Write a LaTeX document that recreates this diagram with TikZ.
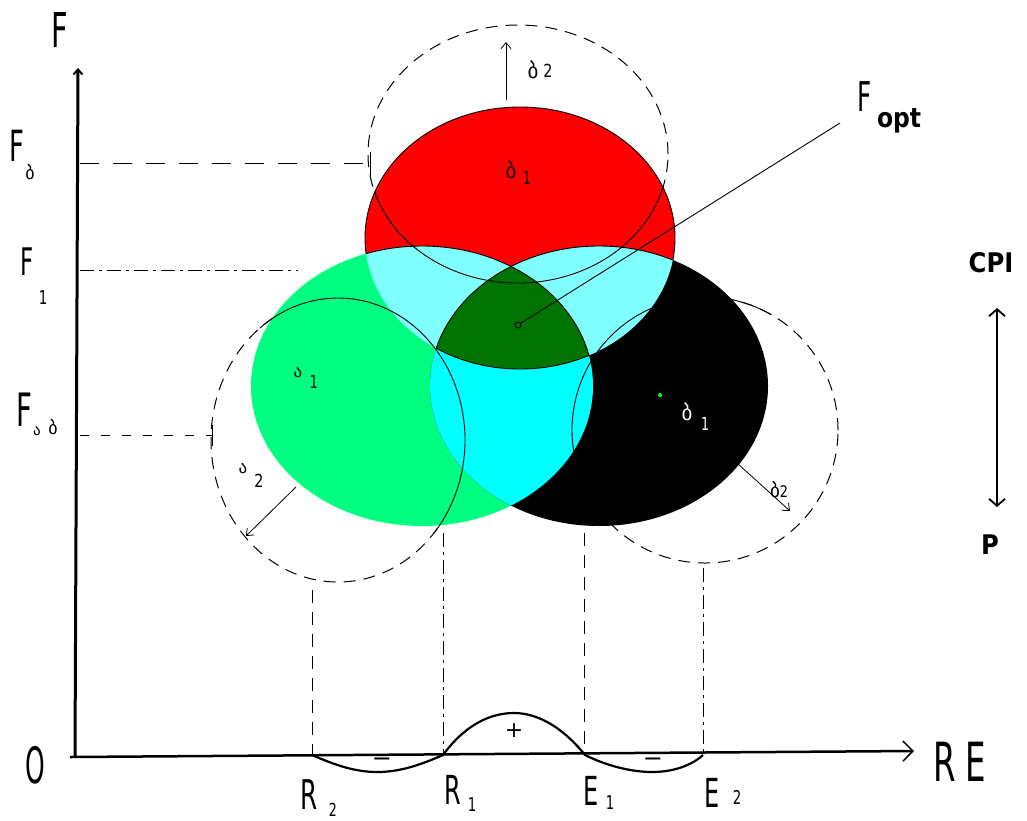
\documentclass[tikz,border=0pt]{standalone}
\usepackage{fontspec}
\setmainfont{DejaVu Sans}
\usetikzlibrary{arrows.meta}
\definecolor{cred}{HTML}{FF0000}
\definecolor{cgreen}{HTML}{00FF80}
\definecolor{clcyan}{HTML}{80FFFF}
\definecolor{ccyan}{HTML}{00FFFF}
\definecolor{cdgreen}{HTML}{007400}
\definecolor{cdot}{HTML}{00FF00}
\newcommand\cf[3]{\scalebox{#1}[1]{\fontsize{#2}{#2}\selectfont #3}}
\newcommand\geo[1]{\fontsize{#1}{#1}\selectfont}
\begin{document}
\begin{tikzpicture}[x=1pt,y=-1pt,
  thinl/.style={line width=0.9pt},
  dcirc/.style={line width=1pt, dash pattern=on 12pt off 8pt},
  barbarrow/.style={line width=0.8pt, -{Straight Barb[length=6pt,width=10pt]}},
  lbl/.style={inner sep=0pt, outer sep=0pt, anchor=center},
  guide/.style={line width=0.8pt},
  dashg/.style={guide, dash pattern=on 13pt off 9pt},
  dotg/.style={guide, dash pattern=on 14pt off 5pt on 3pt off 5pt},
]
\useasboundingbox (0,0) rectangle (1027,820);
\fill[white] (0,0) rectangle (1027,820);

% outer (dashed) circles
\draw[dcirc] (518,154) ellipse [x radius=150pt, y radius=129pt];
\draw[dcirc] (338,440) ellipse [x radius=127pt, y radius=142pt];
\draw[dcirc] (705,430) ellipse [x radius=133pt, y radius=133pt];

% coloured sets
\fill[cred] (520,238) ellipse [x radius=155pt, y radius=131pt];
\draw[thinl] (520,238) ellipse [x radius=155pt, y radius=131pt];
\fill[cgreen] (422,386) ellipse [x radius=171pt, y radius=140pt];
\fill[black] (599,386) ellipse [x radius=169pt, y radius=140pt];
\begin{scope}
  \clip (520,238) ellipse [x radius=155pt, y radius=131pt];
  \fill[clcyan] (422,386) ellipse [x radius=171pt, y radius=140pt];
  \fill[clcyan] (599,386) ellipse [x radius=169pt, y radius=140pt];
\end{scope}
\begin{scope}
  \clip (422,386) ellipse [x radius=171pt, y radius=140pt];
  \fill[ccyan] (599,386) ellipse [x radius=169pt, y radius=140pt];
\end{scope}
\begin{scope}
  \clip (520,238) ellipse [x radius=155pt, y radius=131pt];
  \clip (422,386) ellipse [x radius=171pt, y radius=140pt];
  \fill[cdgreen] (599,386) ellipse [x radius=169pt, y radius=140pt];
\end{scope}
\begin{scope}
  \clip (520,238) ellipse [x radius=155pt, y radius=131pt];
  \draw[thinl] (422,386) ellipse [x radius=171pt, y radius=140pt];
  \draw[thinl] (599,386) ellipse [x radius=169pt, y radius=140pt];
\end{scope}
\begin{scope}
  \clip (422,386) ellipse [x radius=171pt, y radius=140pt];
  \clip (599,386) ellipse [x radius=169pt, y radius=140pt];
  \draw[thinl] (520,238) ellipse [x radius=155pt, y radius=131pt];
\end{scope}

% solid parts of the circles
\draw[thinl] (518,154) ++(197:150pt and 129pt) arc [start angle=197, end angle=345, x radius=150pt, y radius=129pt];
\draw[thinl] (338,440) ++(-41:127pt and 142pt) arc [start angle=-41, end angle=128, x radius=127pt, y radius=142pt];
\draw[thinl] (705,430) ++(60:133pt and 133pt) arc [start angle=60, end angle=215, x radius=133pt, y radius=133pt];
\draw[thinl] (370,152) -- (370,176);
\draw[thinl] (212,425) -- (212,446);

% optimum
\node[circle, draw, thinl, fill=cdgreen, inner sep=0pt, minimum size=6pt] (opt) at (518,325) {};
\coordinate (optend) at (840,123);
\draw[thinl] (opt) -- (optend);
\node[circle, fill=cdot, inner sep=0pt, minimum size=4pt] (gdot) at (660,395) {};

% radius arrows
\coordinate (ta1) at (506,100); \coordinate (ta2) at (506,42);
\draw[barbarrow] (ta1) -- (ta2);
\coordinate (la1) at (296,487); \coordinate (la2) at (246,536);
\draw[barbarrow] (la1) -- (la2);
\coordinate (ra1) at (737,463); \coordinate (ra2) at (790,511);
\draw[barbarrow] (ra1) -- (ra2);

% set labels
\node[lbl] (b2t) at (533,70) {\geo{21}ბ};
\node[lbl] (b2tn) at (548,71) {\cf{0.8}{18}{2}};
\node[lbl] (b1r) at (511,170) {\geo{21}ბ};
\node[lbl] (b1rn) at (527,178) {\cf{0.7}{18}{1}};
\node[lbl] (a1g) at (298,373) {\geo{17}ა};
\node[lbl] (a1gn) at (314,382) {\cf{0.7}{18}{1}};
\node[lbl] (a2g) at (243,469) {\geo{17}ა};
\node[lbl] (a2gn) at (259,481) {\cf{0.8}{18}{2}};
\node[lbl, text=white] (b1k) at (687,412) {\geo{21}ბ};
\node[lbl, text=white] (b1kn) at (705,424) {\cf{0.7}{18}{1}};
\node[lbl] (b2k) at (779,490) {\geo{19}ბ\cf{0.8}{16}{2}};

% guide lines
\coordinate (hb1) at (80,163); \coordinate (hb2) at (370,163);
\draw[guide, dash pattern=on 19pt off 14pt] (hb1) -- (hb2);
\coordinate (h11) at (80,270); \coordinate (h12) at (298,270);
\draw[dotg] (h11) -- (h12);
\coordinate (ha1) at (80,435); \coordinate (ha2) at (212,435);
\draw[guide, dash pattern=on 9pt off 12pt] (ha1) -- (ha2);

\coordinate (vR2t) at (312,590); \coordinate (vR2b) at (312,755);
\draw[dashg] (vR2t) -- (vR2b);
\coordinate (vR1t) at (443,533); \coordinate (vR1b) at (443,755);
\draw[dotg] (vR1t) -- (vR1b);
\coordinate (vE1t) at (584,533); \coordinate (vE1b) at (584,755);
\draw[dashg] (vE1t) -- (vE1b);
\coordinate (vE2t) at (703,568); \coordinate (vE2b) at (703,755);
\draw[dotg] (vE2t) -- (vE2b);

% axes
\coordinate (yb) at (75,757); \coordinate (yt) at (78,68);
\draw[line width=3pt, -{Straight Barb[length=5pt,width=9pt,line width=2pt]}] (yb) -- (yt);
\coordinate (xl) at (70,757); \coordinate (xr) at (914,751);
\draw[line width=2.5pt, -{Straight Barb[length=10pt,width=20pt,line width=1.5pt]}] (xl) -- (xr);

% effect curve
\coordinate (pR2) at (312,755); \coordinate (pR1) at (443,755);
\coordinate (pE1) at (585,755); \coordinate (pE2) at (703,755);
\draw[line width=2.2pt] (pR2) .. controls (335,765) and (355,772) .. (377,772)
  .. controls (400,772) and (420,765) .. (pR1)
  .. controls (465,725) and (490,713) .. (514,713)
  .. controls (540,713) and (565,730) .. (pE1)
  .. controls (605,765) and (630,772) .. (652,772)
  .. controls (674,772) and (692,765) .. (pE2);
\node[lbl] (m1) at (382,762) {\fontsize{24}{24}\selectfont −};
\node[lbl] (m2) at (653,762) {\fontsize{24}{24}\selectfont −};
\node[lbl] (pl) at (514,731) {\fontsize{22}{22}\selectfont +};

% axis labels
\node[lbl] (Fax) at (60,30) {\cf{0.6}{48}{F}};
\node[lbl] (Fb) at (17,146) {\cf{0.6}{43}{F}};
\node[lbl] (Fbs) at (30,172) {\geo{18}ბ};
\node[lbl] (F1) at (27,262) {\cf{0.6}{38}{F}};
\node[lbl] (F1s) at (43,298) {\cf{0.7}{19}{1}};
\node[lbl] (Fab) at (24,410) {\cf{0.6}{46}{F}};
\node[lbl] (Fabs1) at (37,431) {\geo{15}ა};
\node[lbl] (Fabs2) at (53,427) {\geo{18}ბ};
\node[lbl] (O) at (35,765) {\cf{0.5}{50}{O}};
\node[lbl] (Rax) at (945,762) {\cf{0.6}{54}{R}};
\node[lbl] (Eax) at (976,762) {\cf{0.6}{54}{E}};
\node[lbl] (R2) at (309,795) {\cf{0.6}{41}{R}};
\node[lbl] (R2s) at (333,810) {\cf{0.7}{18}{2}};
\node[lbl] (R1) at (453,790) {\cf{0.6}{40}{R}};
\node[lbl] (R1s) at (472,805) {\cf{0.7}{19}{1}};
\node[lbl] (E1) at (591,791) {\cf{0.6}{40}{E}};
\node[lbl] (E1s) at (610,803) {\cf{0.7}{19}{1}};
\node[lbl] (E2) at (712,793) {\cf{0.6}{40}{E}};
\node[lbl] (E2s) at (737,797) {\cf{0.7}{19}{2}};
\node[lbl] (Fo) at (865,97) {\cf{0.6}{41}{F}};
\node[lbl, anchor=base west] (Fos) at (877,127) {\cf{0.87}{27}{\bfseries opt}};
\node[lbl] (CPI) at (991,263) {\cf{0.9}{27}{\bfseries CPI}};
\node[lbl] (P) at (990,545) {\cf{0.9}{27}{\bfseries P}};
\coordinate (cpiT) at (997,308); \coordinate (cpiB) at (997,507);
\draw[line width=2.5pt, {Straight Barb[length=7pt,width=16pt,line width=1.8pt]}-{Straight Barb[length=7pt,width=16pt,line width=1.8pt]}] (cpiT) -- (cpiB);
\end{tikzpicture}
\end{document}
